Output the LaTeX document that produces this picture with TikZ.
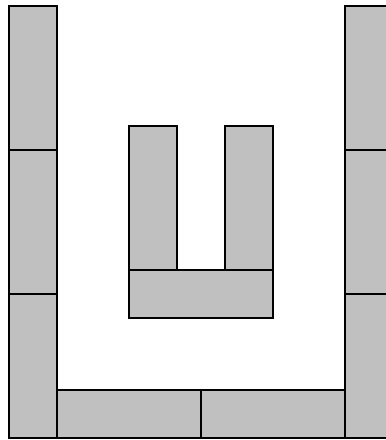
\documentclass[tikz,border=0pt]{standalone}
\definecolor{blockgray}{RGB}{192,192,192}
\tikzset{block/.style={draw=black,fill=blockgray,line width=2pt}}
\begin{document}
\begin{tikzpicture}[x=1pt,y=-1pt]
\useasboundingbox (0,0) rectangle (386,440);
\clip (0,0) rectangle (386,440);
% left column
\path[block] (9,6) rectangle (57,150);
\path[block] (9,150) rectangle (57,294);
\path[block] (9,294) rectangle (57,438);
% right column
\path[block] (345,6) rectangle (393,150);
\path[block] (345,150) rectangle (393,294);
\path[block] (345,294) rectangle (393,438);
% bottom row
\path[block] (57,390) rectangle (201,438);
\path[block] (201,390) rectangle (345,438);
% inner U
\path[block] (129,126) rectangle (177,270);
\path[block] (225,126) rectangle (273,270);
\path[block] (129,270) rectangle (273,318);
\end{tikzpicture}
\end{document}
